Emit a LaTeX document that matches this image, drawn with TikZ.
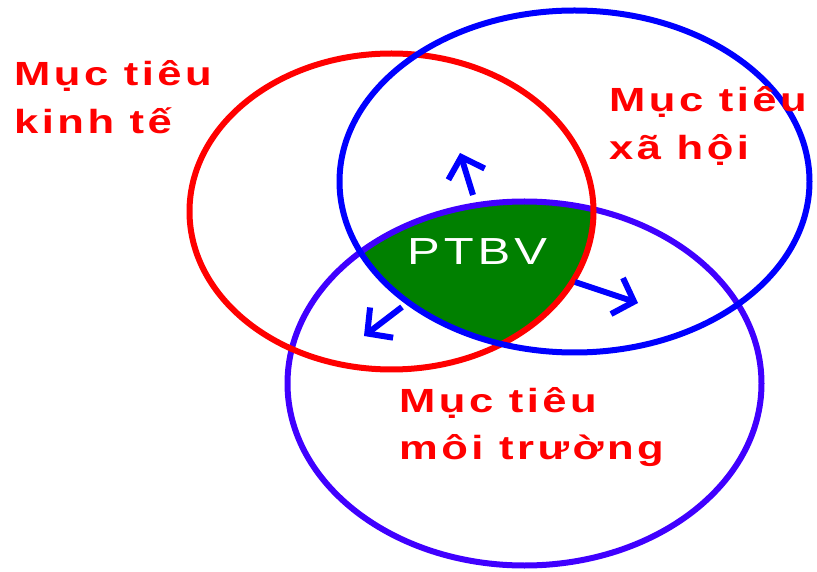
\documentclass[tikz,border=0pt]{standalone}
\usepackage{graphicx}
\usepackage{fontspec}
\setmainfont{Liberation Sans}
\newfontfamily\lblfont[LetterSpace=8]{Liberation Sans}
\usetikzlibrary{arrows.meta}
\definecolor{vred}{RGB}{255,0,0}
\definecolor{vblue}{RGB}{0,0,255}
\definecolor{vpurple}{RGB}{64,0,255}
\definecolor{vgreen}{RGB}{0,128,0}
\newcommand\twolines[2]{\scalebox{1.3}[1]{\vtop{\baselineskip=48pt\hbox{#1}\hbox{#2}}}}
\begin{document}
\begin{tikzpicture}[x=1pt,y=1pt,
  ring/.style={line width=6pt},
  arr/.style={vblue, line width=6pt, -{Straight Barb[length=18pt,width=38pt]}},
  lbl/.style={inner sep=0pt, anchor=base west, text=vred,
    font=\lblfont\bfseries\fontsize{33.5}{48}\selectfont}]
\useasboundingbox (0,0) rectangle (817,571);
\coordinate (ce) at (391.5,359.5);
\coordinate (cs) at (574.5,389.5);
\coordinate (cm) at (524.5,187.5);
\begin{scope}
  \clip (ce) ellipse [x radius=202, y radius=158];
  \clip (cs) ellipse [x radius=235, y radius=171];
  \fill[vgreen] (cm) ellipse [x radius=237, y radius=182];
\end{scope}
\draw[ring, vpurple] (cm) ellipse [x radius=237, y radius=182];
\draw[ring, vred] (ce) ellipse [x radius=202, y radius=158];
\draw[ring, vblue] (cs) ellipse [x radius=235, y radius=171];
\node[lbl] (eco) at (14,485) {\twolines{Mục tiêu}{kinh tế}};
\node[lbl] (soc) at (609,459) {\twolines{Mục tiêu}{xã hội}};
\node[lbl] (env) at (399,159) {\twolines{Mục tiêu}{môi trường}};
\node[inner sep=0pt, anchor=base west, text=white,
  font=\lblfont\fontsize{37.7}{40}\selectfont] (ptbv) at (407,306) {\scalebox{1.3}[1]{PTBV}};
\coordinate (a1s) at (473,376); \coordinate (a1e) at (460,418);
\coordinate (a2s) at (575,289); \coordinate (a2e) at (638,268);
\coordinate (a3s) at (402,264); \coordinate (a3e) at (364,235);
\draw[arr] (a1s) -- (a1e);
\draw[arr] (a2s) -- (a2e);
\draw[arr] (a3s) -- (a3e);
\end{tikzpicture}
\end{document}
